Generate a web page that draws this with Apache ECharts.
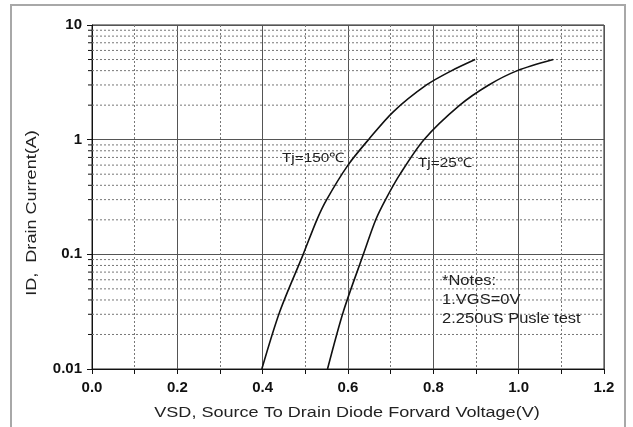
<!DOCTYPE html>
<html><head><meta charset="utf-8">
<script src="https://cdn.jsdelivr.net/npm/echarts@6/dist/echarts.min.js"></script>
<style>html,body{margin:0;padding:0;background:#fff}#c{width:633px;height:427px}</style>
</head><body><div id="c"></div>
<script>
const v150 = [0.398,0.44,0.495,0.527,0.55,0.60,0.648,0.706,0.784,0.843,0.898];
const i150 = [0.01,0.0316,0.1,0.2,0.3,0.6,1.0,1.75,3.0,4.0,5.0];
const v25 = [0.552,0.589,0.636,0.665,0.688,0.722,0.778,0.862,0.93,0.997,1.081];
const i25 = [0.01,0.0316,0.1,0.2,0.3,0.5,1.0,2.0,3.0,4.0,5.0];
const yTicks = [0.01,0.1,1,10];
const yMinor = [0.02,0.03,0.04,0.05,0.06,0.07,0.08,0.09,0.2,0.3,0.4,0.5,0.6,0.7,0.8,0.9,2,3,4,5,6,7,8,9];
const xTickLabels = ['0.0','0.2','0.4','0.6','0.8','1.0','1.2'];
const curveLabels = ['Tj=150\u2103','Tj=25\u2103'];
const notes = ['*Notes:','1.VGS=0V','2.250uS Pusle test'];
const xTitle = 'VSD, Source To Drain Diode Forvard Voltage(V)';
const yTitle = 'ID,  Drain Current(A)';

const FONT = 'Liberation Sans, Arial, sans-serif';
const chart = echarts.init(document.getElementById('c'));
const zip = (a,b)=>a.map((x,i)=>[x,b[i]]);
chart.setOption({
  animation:false,
  backgroundColor:'#fff',
  grid:{left:92,right:29,top:25,bottom:58,show:true,borderColor:'#222',borderWidth:1},
  xAxis:{type:'value',min:0,max:1.2,interval:0.2,
    axisLine:{lineStyle:{color:'#111'}},
    axisTick:{show:true,length:5,lineStyle:{color:'#111'}},
    minorTick:{show:true,splitNumber:2,length:5,lineStyle:{color:'#111'}},
    minorSplitLine:{show:true,lineStyle:{color:'#777',type:[2,2]}},
    splitLine:{show:true,lineStyle:{color:'#555'}},
    axisLabel:{margin:11,fontFamily:FONT,fontSize:15,fontWeight:'bold',color:'#111',
      formatter:(v)=>xTickLabels[Math.round(v/0.2)]}},
  yAxis:{type:'log',logBase:10,min:0.01,max:10,
    axisLine:{lineStyle:{color:'#111'}},
    axisTick:{show:true,length:5,lineStyle:{color:'#111'}},
    splitLine:{show:true,lineStyle:{color:'#555'}},
    axisLabel:{margin:10,fontFamily:FONT,fontSize:15,fontWeight:'bold',color:'#111',
      formatter:(v)=>{const k=yTicks.findIndex(t=>Math.abs(Math.log10(t)-Math.log10(v))<1e-6);return k>=0?String(yTicks[k]):'';}}},
  graphic:[
    {type:'rect',shape:{x:11,y:5,width:614,height:440},style:{fill:null,stroke:'#a8a8a8',lineWidth:2},z:-10},
    {type:'text',x:347,y:413,scaleX:1.29,style:{text:xTitle,font:'14px '+FONT,fill:'#222',align:'center',verticalAlign:'middle'},z:100},
    {type:'text',x:32,y:213,rotation:Math.PI/2,scaleX:1.29,style:{text:yTitle,font:'14px '+FONT,fill:'#222',align:'center',verticalAlign:'middle'},z:100},
    {type:'text',x:282,y:158,scaleX:1.18,style:{text:curveLabels[0],font:'13px '+FONT,fill:'#222',verticalAlign:'middle'},z:100},
    {type:'text',x:418,y:163,scaleX:1.18,style:{text:curveLabels[1],font:'13px '+FONT,fill:'#222',verticalAlign:'middle'},z:100},
    {type:'text',x:442,y:272,scaleX:1.18,style:{text:notes.join('\n'),font:'14px '+FONT,fill:'#222',lineHeight:19},z:100}
  ],
  series:[
    {type:'custom',coordinateSystem:'cartesian2d',silent:true,z:1,
      data:yMinor.map(v=>[0,v]),
      renderItem:(params,api)=>{
        const p0=api.coord([0,api.value(1)]);
        const p1=api.coord([1.2,api.value(1)]);
        return {type:'group',children:[
          {type:'line',shape:{x1:p0[0],y1:p0[1],x2:p1[0],y2:p1[1]},style:{stroke:'#777',lineWidth:1,lineDash:[2,2]}},
          {type:'line',shape:{x1:p0[0]-4,y1:p0[1],x2:p0[0],y2:p0[1]},style:{stroke:'#111',lineWidth:1}}
        ]};
      }},
    {type:'line',data:zip(v150,i150),smooth:0.3,symbol:'none',z:5,lineStyle:{color:'#111',width:1.6}},
    {type:'line',data:zip(v25,i25),smooth:0.3,symbol:'none',z:5,lineStyle:{color:'#111',width:1.6}}
  ]
});
</script></body></html>
